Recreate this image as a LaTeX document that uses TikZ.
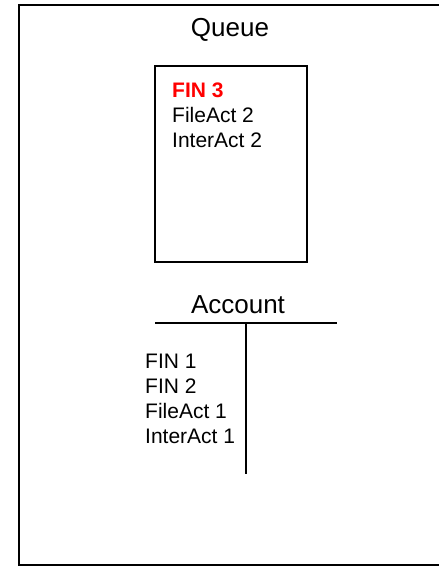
\documentclass[tikz,border=0pt]{standalone}
\usepackage{fontspec}
\setmainfont{Liberation Sans}
\begin{document}
\begin{tikzpicture}[x=1pt,y=-1pt,
  heading/.style={font=\fontsize{26}{30}\selectfont,anchor=base,inner sep=0pt},
  item/.style={font=\fontsize{21}{25}\selectfont,anchor=base west,inner sep=0pt},
  rule/.style={line width=1.6pt}]
\useasboundingbox (0,0) rectangle (439,573);
\clip (0,0) rectangle (439,573);
% outer frame
\draw[rule] (19,5) rectangle (450,565);
\node[heading] (queue) at (230,36) {Queue};
% queue box
\draw[rule] (155,66) rectangle (307,262);
\node[item,text=red,font=\bfseries\fontsize{21}{25}\selectfont] (fin3) at (172,97) {FIN 3};
\node[item] (fileact2) at (172,122) {FileAct 2};
\node[item] (interact2) at (172,147) {InterAct 2};
% account
\node[heading] (account) at (238,313) {Account};
\coordinate (tleft) at (155,323);
\coordinate (tright) at (337,323);
\coordinate (ttop) at (246,323);
\coordinate (tbot) at (246,474);
\draw[rule] (tleft)--(tright);
\draw[rule] (ttop)--(tbot);
\node[item] (fin1) at (145,368) {FIN 1};
\node[item] (fin2) at (145,393) {FIN 2};
\node[item] (fileact1) at (145,418) {FileAct 1};
\node[item] (interact1) at (145,443) {InterAct 1};
\end{tikzpicture}
\end{document}
